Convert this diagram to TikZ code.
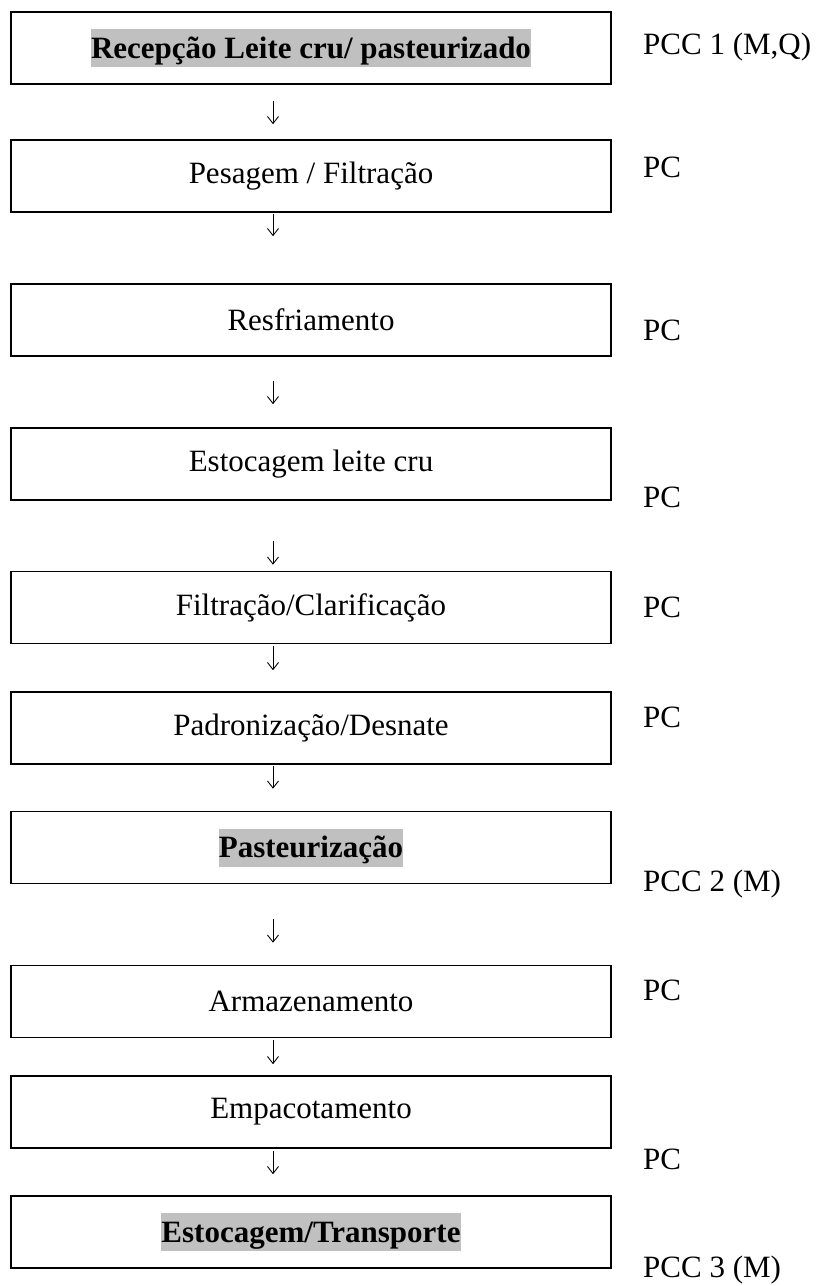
\documentclass[tikz,border=0pt]{standalone}
\usepackage{fontspec}
\setmainfont{Liberation Serif}
\usetikzlibrary{arrows.meta}
\definecolor{hlgray}{RGB}{192,192,192}
\newcommand\hlt[1]{{\setlength{\fboxsep}{0pt}\colorbox{hlgray}{\rule[-9pt]{0pt}{38pt}#1}}}
\tikzset{
  box/.style={draw, line width=1.6pt, minimum width=600pt, minimum height=72pt, inner sep=0pt,
    font=\fontsize{31}{37}\selectfont},
  lbl/.style={anchor=west, inner sep=0pt, font=\fontsize{31}{37}\selectfont},
  conn/.style={-{Straight Barb[length=7pt,width=11pt]}, line width=0.9pt},
  gap/.style 2 args={shorten <=#1pt, shorten >=#2pt}
}
\begin{document}
\begin{tikzpicture}[x=1pt,y=-1pt]
\useasboundingbox (0,0) rectangle (818,1286);
\node[box] (b1) at (311,48) {\hlt{\textbf{Recepção Leite cru/ pasteurizado}}};
\node[box] (b2) at (311,176) {Pesagem / Filtração};
\node[box] (b3) at (311,320) {Resfriamento};
\node[box] (b4) at (311,464) {Estocagem leite cru};
\node[box] (b5) at (311,607.5) {Filtração/Clarificação};
\node[box] (b6) at (311,728) {Padronização/Desnate};
\node[box] (b7) at (311,847.5) {\hlt{\textbf{Pasteurização}}};
\node[box] (b8) at (311,1001.5) {Armazenamento};
\node[box] (b9) at (311,1112) {Empacotamento};
\node[box] (b10) at (311,1232) {\hlt{\textbf{Estocagem/Transporte}}};

\node[lbl] (l1) at (643,47) {PCC 1 (M,Q)};
\node[lbl] (l2) at (643,167) {PC};
\node[lbl] (l3) at (643,330) {PC};
\node[lbl] (l4) at (643,497) {PC};
\node[lbl] (l5) at (643,607) {PC};
\node[lbl] (l6) at (643,717) {PC};
\node[lbl] (l7) at (643,884) {PCC 2 (M)};
\node[lbl] (l8) at (643,990) {PC};
\node[lbl] (l9) at (643,1159) {PC};
\node[lbl] (l10) at (643,1270) {PCC 3 (M)};

\draw[conn, gap={16}{15}] ([xshift=-38pt]b1.south) -- ([xshift=-38pt]b2.north);
\draw[conn, gap={1}{47}] ([xshift=-38pt]b2.south) -- ([xshift=-38pt]b3.north);
\draw[conn, gap={24}{23}] ([xshift=-38pt]b3.south) -- ([xshift=-38pt]b4.north);
\draw[conn, gap={40}{6}] ([xshift=-38pt]b4.south) -- ([xshift=-38pt]b5.north);
\draw[conn, gap={2}{21}] ([xshift=-38pt]b5.south) -- ([xshift=-38pt]b6.north);
\draw[conn, gap={1}{22}] ([xshift=-38pt]b6.south) -- ([xshift=-38pt]b7.north);
\draw[conn, gap={35}{22}] ([xshift=-38pt]b7.south) -- ([xshift=-38pt]b8.north);
\draw[conn, gap={2}{11}] ([xshift=-38pt]b8.south) -- ([xshift=-38pt]b9.north);
\draw[conn, gap={2}{21}] ([xshift=-38pt]b9.south) -- ([xshift=-38pt]b10.north);
\end{tikzpicture}
\end{document}
